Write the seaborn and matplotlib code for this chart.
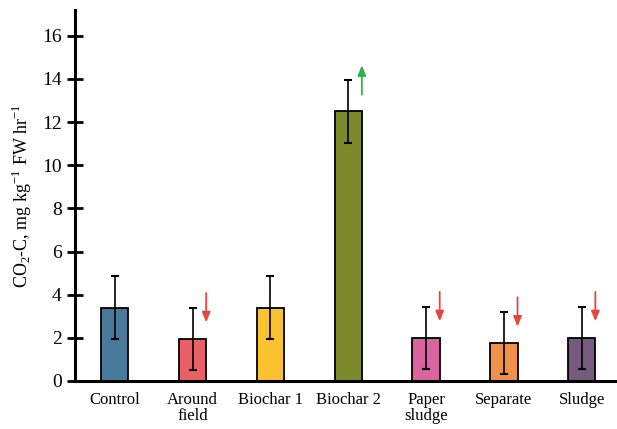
import matplotlib
matplotlib.use("Agg")
import matplotlib.pyplot as plt
import seaborn as sns
import pandas as pd

categories = ["Control", "Around\nfield", "Biochar 1", "Biochar 2", "Paper\nsludge", "Separate", "Sludge"]
values = [3.4, 1.95, 3.4, 12.5, 2.0, 1.75, 2.0]
errors = [1.45, 1.45, 1.45, 1.45, 1.45, 1.45, 1.45]
trend = [0, -1, 0, 1, -1, -1, -1]
colors = ["#487a9c", "#e96166", "#f9c22e", "#7d8a2b", "#d9649f", "#f0914b", "#775b7e"]
yticks = [0, 2, 4, 6, 8, 10, 12, 14, 16]

sns.set_style("white")
plt.rcParams["font.family"] = ["Liberation Serif", "DejaVu Serif"]
plt.rcParams["mathtext.fontset"] = "custom"
plt.rcParams["mathtext.rm"] = "Liberation Serif"
plt.rcParams["text.color"] = "black"
plt.rcParams["axes.labelcolor"] = "black"
plt.rcParams["xtick.color"] = "black"
plt.rcParams["ytick.color"] = "black"

df = pd.DataFrame({"cat": categories, "val": values})

fig = plt.figure(figsize=(6.17, 4.29), dpi=100)
ax = fig.add_axes([0.1216, 0.112, 0.878, 0.865])
sns.barplot(data=df, x="cat", y="val", hue="cat", palette=colors, legend=False,
            saturation=1, width=0.35, edgecolor="black", linewidth=1.3, ax=ax,
            errorbar=None)

xs = [p.get_x() + p.get_width() / 2 for p in ax.patches]
ax.errorbar(xs, values, yerr=errors, fmt="none", ecolor="black", elinewidth=1.2,
            capsize=3, capthick=1.5)

for x, v, e, t in zip(xs, values, errors, trend):
    if t == 0:
        continue
    top = v + e
    half = 0.68
    ax_x = x + 0.175
    col = "#e8453c" if t < 0 else "#2fb04a"
    ax.annotate("", xy=(ax_x, top + t * half), xytext=(ax_x, top - t * half),
                arrowprops=dict(arrowstyle="-|>,head_length=0.6,head_width=0.25",
                                color=col, lw=1.3, shrinkA=0, shrinkB=0))

ax.set_xlim(-0.51, 6.45)
ax.set_ylim(0, 17.2)
ax.set_yticks(yticks)
ax.set_xlabel("")
ax.set_ylabel("CO$_{2}$-C, mg kg$^{-1}$ FW hr$^{-1}$", fontsize=13, labelpad=6)
ax.tick_params(axis="y", left=True, direction="inout", length=11, width=2,
               labelsize=14, pad=4, colors="black")
ax.tick_params(axis="x", length=0, labelsize=12, pad=8, colors="black")
for lbl in ax.get_xticklabels():
    lbl.set_linespacing(1.0)
for s in ["top", "right"]:
    ax.spines[s].set_visible(False)
ax.spines["left"].set_linewidth(2.2)
ax.spines["bottom"].set_linewidth(2.2)
ax.spines["left"].set_color("black")
ax.spines["bottom"].set_color("black")

fig.savefig("out.png", dpi=100)
